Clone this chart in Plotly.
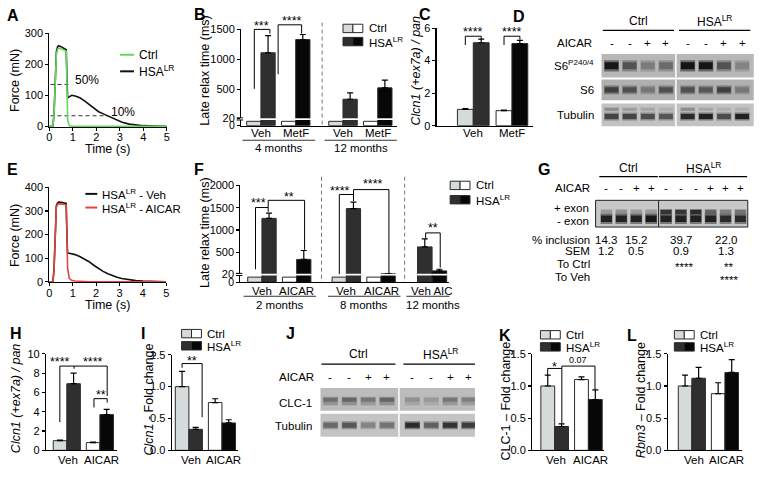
import plotly.graph_objects as go

W, H = 761, 481
FONT = "Liberation Sans, Arial, Helvetica, sans-serif"
LIGHT = "#d5dbda"
DARK = "#2f2f2f"
BLACK = "#070707"
WHITE = "#ffffff"
EDGE = "#2b2b2b"
GREEN = "#62d95a"
RED = "#e5443a"
HSA = "HSA<sup>LR</sup>"

# ---------------- data ----------------
# A / E : force traces
t_s = [0, 0.15, 0.2, 0.25, 0.3, 0.35, 0.4, 0.5, 0.6, 0.7, 0.72, 0.75, 0.78, 0.85, 0.95, 1.1,
       1.3, 1.5, 1.7, 1.9, 2.1, 2.3, 2.5, 2.7, 2.9, 3.1, 3.4, 3.7, 4.0, 4.5, 5.0]
a_ctrl = [0, 0, 35, 160, 232, 248, 252, 250, 247, 244, 242, 140, 20, 2, 0, 0,
          0, 0, 0, 0, 0, 0, 0, 0, 0, 0, 0, 0, 0, 0, 0]
a_hsa = [0, 0, 40, 170, 240, 256, 260, 257, 253, 249, 247, 160, 92, 95, 100, 98,
         92, 82, 70, 58, 47, 40, 33, 25, 18, 13, 7, 4, 2, 1, 0]
a_ref_level = [135, 34]
a_ref_end = [0.95, 2.5]
e_veh = [0, 0, 50, 225, 322, 334, 338, 337, 335, 333, 332, 210, 122, 121, 119, 115,
         107, 97, 85, 70, 55, 44, 34, 26, 19, 14, 8, 5, 3, 1, 0]
e_aicar = [0, 0, 45, 218, 316, 328, 331, 330, 329, 327, 326, 230, 60, 15, 6, 3,
           1, 0, 0, 0, 0, 0, 0, 0, 0, 0, 0, 0, 0, 0, 0]

# B : late relax time, metformin
b_treat = ["Veh", "MetF", "Veh", "MetF"]
b_age = ["4 months", "4 months", "12 months", "12 months"]
b_ctrl = [15, 15, 15, 15]
b_hsa = [1110, 1330, 335, 525]
b_hsa_err = [285, 85, 105, 130]

# C : Clcn1 exon 7a inclusion
c_treat = ["Veh", "MetF"]
c_ctrl = [1.0, 0.92]
c_ctrl_err = [0.05, 0.04]
c_hsa = [5.1, 5.05]
c_hsa_err = [0.22, 0.2]

# D : S6 phosphorylation blot (band darkness 0-1)
d_aicar = ["-", "-", "+", "+", "-", "-", "+", "+"]
d_s6p = [0.95, 0.6, 0.35, 0.45, 0.97, 0.97, 0.6, 0.3]
d_s6 = [0.7, 0.6, 0.35, 0.6, 0.6, 0.55, 0.7, 0.35]
d_tub = [0.7, 0.7, 0.65, 0.6, 0.85, 0.9, 0.65, 0.9]
d_tub_upper = [0.3, 0.2, 0.15, 0.1, 0.3, 0.15, 0.1, 0.1]

# F : late relax time, AICAR
f_treat = ["Veh", "AICAR", "Veh", "AICAR"]
f_age = ["2 months", "2 months", "8 months", "8 months"]
f_ctrl = [15, 15, 15, 15]
f_hsa = [1260, 340, 1480, 19]
f_hsa_err = [120, 200, 145, 0]
f12_treat = ["Veh", "AIC"]
f12_hsa = [620, 82]
f12_err = [180, 37]

# G : RT-PCR gel
g_aicar = ["-", "-", "+", "+", "-", "-", "-", "+", "+", "+"]
g_plus = [0.25, 0.3, 0.25, 0.25, 0.8, 0.8, 0.85, 0.55, 0.4, 0.45]
g_minus = [0.9, 0.9, 0.9, 0.95, 0.9, 0.9, 0.9, 0.9, 0.85, 0.85]
g_incl = ["14.3", "15.2", "39.7", "22.0"]
g_sem = ["1.2", "0.5", "0.9", "1.3"]
g_to_ctrl = ["", "", "****", "**"]
g_to_veh = ["", "", "", "****"]

# H, I, K, L : bar panels
h_treat = ["Veh", "AICAR"]
h_ctrl, h_ctrl_err = [1.0, 0.8], [0.07, 0.05]
h_hsa, h_hsa_err = [6.9, 3.7], [1.1, 0.55]
i_ctrl, i_ctrl_err = [1.0, 0.75], [0.24, 0.06]
i_hsa, i_hsa_err = [0.33, 0.43], [0.03, 0.05]
k_ctrl, k_ctrl_err = [1.0, 1.1], [0.17, 0.04]
k_hsa, k_hsa_err = [0.37, 0.79], [0.04, 0.15]
l_ctrl, l_ctrl_err = [1.0, 0.88], [0.17, 0.17]
l_hsa, l_hsa_err = [1.12, 1.21], [0.17, 0.2]

# J : CLC-1 blot
j_aicar = ["-", "-", "+", "+", "-", "-", "+", "+"]
j_clc = [0.45, 0.5, 0.4, 0.5, 0.25, 0.2, 0.4, 0.35]
j_tub = [0.5, 0.6, 0.35, 0.45, 0.85, 0.55, 0.8, 0.75]

# ---------------- helpers ----------------
fig = go.Figure()
axes = {}
shapes = []
notes = []
count = [0]


def fx(x):
    return x / W


def fy(y):
    return 1 - y / H


def new_axes(x0, x1, top, bottom, xr, yr, visible=True):
    count[0] += 1
    k = "" if count[0] == 1 else str(count[0])
    common = dict(showgrid=False, zeroline=False, fixedrange=True, showline=True,
                  linecolor="black", linewidth=1.1, ticks="outside", ticklen=3,
                  tickwidth=1.1, tickcolor="black",
                  tickfont=dict(size=11, color="black", family=FONT))
    xa = dict(common, domain=[fx(x0), fx(x1)], range=xr, anchor="y" + k)
    ya = dict(common, domain=[fy(bottom), fy(top)], range=yr, anchor="x" + k)
    if not visible:
        xa["visible"] = False
        ya["visible"] = False
    axes["xaxis" + k] = xa
    axes["yaxis" + k] = ya
    return "x" + k, "y" + k


def text(x, y, s, size=11, anchor="center", xref="paper", angle=0):
    notes.append(dict(x=fx(x) if xref == "paper" else x, y=fy(y), xref=xref, yref="paper",
                      text=s, showarrow=False, xanchor=anchor, yanchor="middle",
                      textangle=angle, font=dict(size=size, color="black", family=FONT)))


def seg(pts, color="black", width=1, dash="solid", xref="paper"):
    for (x0, y0), (x1, y1) in zip(pts[:-1], pts[1:]):
        shapes.append(dict(type="line", xref=xref, yref="paper",
                           x0=fx(x0) if xref == "paper" else x0,
                           x1=fx(x1) if xref == "paper" else x1,
                           y0=fy(y0), y1=fy(y1),
                           line=dict(color=color, width=width, dash=dash)))


def rect(x0, y0, x1, y1, fill, line=EDGE):
    shapes.append(dict(type="rect", xref="paper", yref="paper", x0=fx(x0), x1=fx(x1),
                       y0=fy(y1), y1=fy(y0), fillcolor=fill, line=dict(color=line, width=1)))


def letter(x, y, s):
    text(x, y, "<b>%s</b>" % s, size=16, anchor="left")


def legend_boxes(x, yc, yh):
    for y, cols, lab in ((yc, (LIGHT, WHITE), "Ctrl"), (yh, (DARK, BLACK), HSA)):
        rect(x, y - 4.3, x + 10, y + 4.3, cols[0])
        rect(x + 10, y - 4.3, x + 20, y + 4.3, cols[1])
        text(x + 24, y, lab, size=11.5, anchor="left")


def bars(xa, ya, pos, vals, errs, cols, w=0.41):
    n = len(vals)
    err = None
    if errs is not None:
        err = dict(type="data", array=errs, arrayminus=[0] * n, symmetric=False,
                   color="black", thickness=1.2, width=3)
    fig.add_trace(go.Bar(x=pos, y=vals, width=w, marker=dict(color=cols, line=dict(color=EDGE, width=1)),
                         error_y=err, xaxis=xa, yaxis=ya, hoverinfo="skip", showlegend=False))


def pair_panel(xa, ya, treat, ctrl, ctrl_err, hsa, hsa_err, w=0.41):
    pos = list(range(len(treat)))
    ccols = [LIGHT if t == "Veh" else WHITE for t in treat]
    hcols = [DARK if t == "Veh" else BLACK for t in treat]
    bars(xa, ya, [p - w / 2 for p in pos], ctrl, ctrl_err, ccols, w)
    bars(xa, ya, [p + w / 2 for p in pos], hsa, hsa_err, hcols, w)
    return pos


def shade(i, bg, a=1.0):
    v = int(bg - (bg - 15) * i)
    return "rgba(%d,%d,%d,%.2f)" % (v, v, v, a)


def strip(x0, x1, top, bottom, xr, bg, border=None):
    xa, ya = new_axes(x0, x1, top, bottom, xr, [0, 1], visible=False)
    shapes.append(dict(type="rect", xref=xa + " domain", yref=ya + " domain", x0=0, x1=1,
                       y0=0, y1=1, fillcolor="rgb(%d,%d,%d)" % (bg, bg, bg), layer="below",
                       line=dict(color=border or "rgba(0,0,0,0)", width=1)))
    return xa, ya


def bands(xa, ya, lanes, inten, yc, h, bg, bw=0.82):
    n = len(lanes)
    fig.add_trace(go.Bar(x=lanes, y=[h * 1.6] * n, base=[yc - h * 0.8] * n, width=bw,
                         marker=dict(color=[shade(i * 0.8, bg, 0.6) for i in inten], line=dict(width=0)),
                         xaxis=xa, yaxis=ya, hoverinfo="skip", showlegend=False))
    fig.add_trace(go.Bar(x=lanes, y=[h] * n, base=[yc - h / 2] * n, width=bw * 0.92,
                         marker=dict(color=[shade(i, bg) for i in inten], line=dict(width=0)),
                         xaxis=xa, yaxis=ya, hoverinfo="skip", showlegend=False))


def divider(xa, ya, x, color="white", width=1.5):
    shapes.append(dict(type="line", xref=xa, yref=ya + " domain", x0=x, x1=x, y0=0, y1=1,
                       line=dict(color=color, width=width)))


def blot_header(xa, lanes, n_ctrl, signs, y_head, y_line, y_sign, label_x):
    groups = (("Ctrl", lanes[:n_ctrl]), (HSA, lanes[n_ctrl:]))
    for lab, ln in groups:
        text((ln[0] + ln[-1]) / 2, y_head, lab, size=12, xref=xa)
        seg([(ln[0] - 0.48, y_line), (ln[-1] + 0.45, y_line)], width=1.3, xref=xa)
    text(label_x, y_sign, "AICAR", size=11.5, anchor="right")
    for p, s in zip(lanes, signs):
        text(p, y_sign, s, size=11.5, xref=xa)


def group_labels(xa, pos, labels, y):
    for p, s in zip(pos, labels):
        text(p, y, s, size=11.5, xref=xa)


# ---------------- A ----------------
letter(2, 10, "A")
xa, ya = new_axes(46.7, 165, 28, 124, [0, 5], [-2, 300])
axes["xaxis"].update(tickvals=[0, 1, 2, 3, 4, 5], ticklabelstandoff=-3)
axes["yaxis"]["tickvals"] = [0, 100, 200, 300]
for lvl, end in zip(a_ref_level, a_ref_end):
    fig.add_trace(go.Scatter(x=[0.05, end], y=[lvl, lvl], mode="lines", xaxis=xa, yaxis=ya,
                             line=dict(color="#333", width=1, dash="4px,3px"), showlegend=False))
fig.add_trace(go.Scatter(x=t_s, y=a_hsa, mode="lines", line=dict(color="#111", width=1.6),
                         xaxis=xa, yaxis=ya, showlegend=False))
fig.add_trace(go.Scatter(x=t_s, y=a_ctrl, mode="lines", line=dict(color=GREEN, width=1.6),
                         xaxis=xa, yaxis=ya, showlegend=False))
text(71, 76, "50%", size=12, anchor="left")
text(107, 109, "10%", size=12, anchor="left")
seg([(118, 50), (132, 50)], color=GREEN, width=2)
text(135, 50, "Ctrl", size=12, anchor="left")
seg([(118, 67), (132, 67)], color="#111", width=2)
text(135, 67, HSA, size=12, anchor="left")
text(12, 76, "Force (mN)", size=12.5, angle=-90)
text(105, 147, "Time (s)", size=12.5)

# ---------------- E ----------------
letter(2, 168, "E")
xa, ya = new_axes(46.7, 164.5, 186, 283.3, [0, 5], [-2, 400])
axes["xaxis" + xa[1:]].update(tickvals=[0, 1, 2, 3, 4, 5], ticklabelstandoff=-3)
axes["yaxis" + ya[1:]]["tickvals"] = [0, 100, 200, 300, 400]
fig.add_trace(go.Scatter(x=t_s, y=e_veh, mode="lines", line=dict(color="#111", width=1.6),
                         xaxis=xa, yaxis=ya, showlegend=False))
fig.add_trace(go.Scatter(x=t_s, y=e_aicar, mode="lines", line=dict(color=RED, width=1.6),
                         xaxis=xa, yaxis=ya, showlegend=False))
seg([(83, 192.7), (95, 192.7)], color="#111", width=2)
text(97.5, 192.7, HSA + " - Veh", size=11.5, anchor="left")
seg([(83, 206.7), (95, 206.7)], color=RED, width=2)
text(97.5, 206.7, HSA + " - AICAR", size=11.5, anchor="left")
text(12, 235, "Force (mN)", size=12.5, angle=-90)
text(105, 307, "Time (s)", size=12.5)


# ---------------- broken-axis panels (B, F) ----------------
def broken_panel(x0, x1, top, brk, bottom, xr, ymax, yticks, pos, treat, ctrl, hsa, hsa_err):
    xb, yb = new_axes(x0, x1, brk + 1.8, bottom, xr, [0, 20])
    axes["xaxis" + xb[1:]].update(ticks="", showticklabels=False)
    axes["yaxis" + yb[1:]].update(tickvals=[0], tickfont=dict(size=10.5, color="black", family=FONT))
    xt, yt = new_axes(x0, x1, top, brk, xr, [20, ymax])
    axes["xaxis" + xt[1:]]["visible"] = False
    axes["yaxis" + yt[1:]].update(tickvals=yticks)
    w = 0.41
    ccols = [LIGHT if t == "Veh" else WHITE for t in treat]
    hcols = [DARK if t == "Veh" else BLACK for t in treat]
    bars(xb, yb, [p - w / 2 for p in pos], ctrl, None, ccols, w)
    for xa_, ya_, er in ((xb, yb, None), (xt, yt, hsa_err)):
        bars(xa_, ya_, [p + w / 2 for p in pos], hsa, er, hcols, w)
    seg([(x0 - 4.5, brk - 0.3), (x0 + 2, brk - 0.3)], width=1)
    seg([(x0 - 4.5, brk + 1.9), (x0 + 2, brk + 1.9)], width=1)
    return xb


def age_groups(xa, pos, ages, y_line, y_text, w=0.41):
    seen = []
    for a in ages:
        if a not in seen:
            seen.append(a)
    for a in seen:
        ps = [p for p, g in zip(pos, ages) if g == a]
        lo, hi = ps[0] - w - 0.12, ps[-1] + w + 0.15
        seg([(lo, y_line), (hi, y_line)], color="#333", width=1, xref=xa)
        text((lo + hi) / 2, y_text, a, size=11.5, xref=xa)


# B
letter(190, 9, "B")
b_pos = [0, 1, 2.36, 3.36]
xb = broken_panel(240, 397, 24, 115, 122.7, [-0.57, 3.91], 1500, [20, 500, 1000, 1500],
                  b_pos, b_treat, b_ctrl, b_hsa, b_hsa_err)
group_labels(xb, b_pos, b_treat, 130.7)
age_groups(xb, b_pos, b_age, 137.7, 145.7)
mid = (b_pos[1] + b_pos[2]) / 2 + 0.08
seg([(mid, 17), (mid, 122.7)], color="#777", width=1, dash="4px,3px", xref=xb)
text(203.3, 66.7, "Late relax time (ms)", size=12.5, angle=-90)
legend_boxes(342.7, 23, 36.5)
seg([(253.3, 85), (253.3, 24), (269, 24), (269, 28.3)])
text(261, 20, "***", size=12.5)
seg([(277.3, 70), (277.3, 19.3), (301, 19.3), (301, 28.3)])
text(291, 15, "****", size=12.5)

# F
letter(190, 168, "F")
f_pos = [0, 1, 2.43, 3.43]
f12_pos = 4.9
xf = broken_panel(239.3, 450, 184, 274.5, 283.3, [-0.62, 5.4], 2000, [20, 500, 1000, 1500, 2000],
                  f_pos, f_treat, f_ctrl, f_hsa, f_hsa_err)
yfb = "y" + xf[1:]
yft = "y" + str(int(xf[1:]) + 1)
xft = "x" + str(int(xf[1:]) + 1)
p12 = [f12_pos - 0.21, f12_pos + 0.21]
c12 = [DARK, BLACK]
bars(xf, yfb, p12, f12_hsa, None, c12, 0.42)
bars(xft, yft, p12, f12_hsa, f12_err, c12, 0.42)
group_labels(xf, f_pos, f_treat, 292.3)
group_labels(xf, [f12_pos], [" ".join(f12_treat)], 292.3)
age_groups(xf, f_pos + p12, f_age + ["12 months", "12 months"], 297.7, 306.7)
for m in ((f_pos[1] + f_pos[2]) / 2, (f_pos[3] + p12[0]) / 2 + 0.05):
    seg([(m, 175), (m, 283.3)], color="#777", width=1, dash="4px,3px", xref=xf)
text(203.3, 233, "Late relax time (ms)", size=12.5, angle=-90)
legend_boxes(450.7, 184, 198.7)
seg([(254.5, 270), (254.5, 206.7), (267.3, 206.7), (267.3, 211)])
text(258, 202.5, "***", size=12.5)
seg([(267.3, 206.7), (267.3, 199.3), (304, 199.3), (304, 250)])
text(288.3, 195.5, "**", size=12.5)
seg([(339, 275), (339, 193.3), (353.3, 193.3), (353.3, 200)])
text(340, 189.5, "****", size=12.5)
seg([(353.3, 193.3), (353.3, 188.3), (389, 188.3), (389, 275)])
text(373.3, 183, "****", size=12.5)
seg([(426, 238.3), (426, 232.7), (440.7, 232.7), (440.7, 268.3)])
text(433.3, 227.5, "**", size=12.5)

# ---------------- C ----------------
letter(417, 9, "C")
xa, ya = new_axes(437, 534, 22.7, 122.7, [-0.95, 1.54], [0, 6])
axes["xaxis" + xa[1:]].update(ticks="", showticklabels=False)
axes["yaxis" + ya[1:]].update(tickvals=[0, 2, 4, 6])
cp = pair_panel(xa, ya, c_treat, c_ctrl, c_ctrl_err, c_hsa, c_hsa_err)
group_labels(xa, cp, c_treat, 130.7)
text(416.7, 66.7, "<i>Clcn1 (+ex7a) / pan</i>", size=12.5, angle=-90)
seg([(466, 40), (466, 31), (482, 31), (482, 34)])
text(474, 26.5, "****", size=12.5)
seg([(505, 40), (505, 31), (521, 31), (521, 34.5)])
text(513, 26.5, "****", size=12.5)

# ---------------- D (western blot) ----------------
letter(512, 11, "D")
d_lanes = [i + 0.2 * (i >= 4) for i in range(8)]
dx = [-0.55, 7.84]
rows = [(49.3, 73.3, 183, d_s6p, 0.5, 0.3), (75.3, 96.7, 176, d_s6, 0.5, 0.26),
        (100, 123.3, 194, d_tub, 0.43, 0.22)]
first = None
for top, bot, bg, inten, yc, hh in rows:
    xs, ys = strip(603.3, 756.7, top, bot, dx, bg)
    first = first or xs
    if inten is d_tub:
        bands(xs, ys, d_lanes, d_tub_upper, 0.74, 0.12, bg)
    bands(xs, ys, d_lanes, inten, yc, hh, bg)
    divider(xs, ys, (d_lanes[3] + d_lanes[4]) / 2 - 0.05)
blot_header(first, d_lanes, 4, d_aicar, 15, 25, 38.3, 596)
text(597.3, 61, "S6<sup>P240/4</sup>", size=11.5, anchor="right")
text(597.3, 86, "S6", size=11.5, anchor="right")
text(597.3, 111.7, "Tubulin", size=11.5, anchor="right")

# ---------------- G (gel) ----------------
letter(537, 168, "G")
g_lanes = list(range(10))
xs, ys = strip(597.3, 750.7, 199.3, 226.7, [-0.73, 9.49], 200, border="#222")
bands(xs, ys, g_lanes, g_plus, 0.56, 0.15, 200, 0.8)
bands(xs, ys, g_lanes, g_minus, 0.31, 0.24, 200, 0.8)
divider(xs, ys, 3.5, color="#222", width=1)
blot_header(xs, g_lanes, 4, g_aicar, 166, 175, 186.7, 593.3)
text(592.7, 207.3, "+ exon", size=11.5, anchor="right")
text(592.7, 221, "- exon", size=11.5, anchor="right")
g_val_lane = [0, 2, 5, 8]
for lab, y, vals in (("% inclusion", 240, g_incl), ("SEM", 251.7, g_sem),
                     ("To Ctrl", 265, g_to_ctrl), ("To Veh", 277.5, g_to_veh)):
    text(594, y, lab, size=11.5, anchor="right")
    for p, v in zip(g_val_lane, vals):
        if v:
            sh = 0.2 if v.startswith("*") else 0
            text(p + sh, y + (3 if v.startswith("*") else 0), v, size=11.5, xref=xs)

# ---------------- H ----------------
letter(5, 336, "H")
xa, ya = new_axes(43.3, 115, 356.7, 455.7, [-0.63, 1.52], [0, 10])
axes["xaxis" + xa[1:]].update(ticks="", showticklabels=False)
axes["yaxis" + ya[1:]].update(tickvals=[0, 2, 4, 6, 8, 10])
hp = pair_panel(xa, ya, h_treat, h_ctrl, h_ctrl_err, h_hsa, h_hsa_err)
group_labels(xa, [p + 0.05 for p in hp], h_treat, 465.7)
text(13.3, 403, "<i>Clcn1 (+ex7a) / pan</i>", size=12.5, angle=-90)
seg([(57.3, 426.7), (57.3, 369.3), (105, 369.3), (105, 400)])
seg([(71.7, 369.3), (71.7, 372)])
text(57.5, 365.5, "****", size=12.5)
text(91, 365.5, "****", size=12.5)
seg([(91.7, 411.7), (91.7, 402.7), (105, 402.7), (105, 406.7)])
text(98.3, 399, "**", size=12.5)

# ---------------- I ----------------
letter(137, 336, "I")
xa, ya = new_axes(170, 236.7, 357.7, 455.7, [-0.52, 1.48], [0, 1.5])
axes["xaxis" + xa[1:]].update(ticks="", showticklabels=False)
axes["yaxis" + ya[1:]].update(tickvals=[0, 0.5, 1, 1.5], ticktext=["0.0", "0.5", "1.0", "1.5"])
ip = pair_panel(xa, ya, h_treat, i_ctrl, i_ctrl_err, i_hsa, i_hsa_err)
group_labels(xa, [p + 0.05 for p in ip], h_treat, 465.7)
text(146.7, 404, "<i>Clcn1</i> - Fold change", size=12.5, angle=-90)
legend_boxes(180, 336, 348.5)
seg([(180.5, 371), (180.5, 366.7), (200.7, 366.7), (200.7, 421.7)])
text(190.7, 364, "**", size=12.5)

# ---------------- J (western blot) ----------------
letter(283, 336, "J")
j_lanes = [i + 0.35 * (i >= 4) for i in range(8)]
jx = [-0.53, 7.67]
xs, ys = strip(320, 475.7, 391.7, 415, jx, 188)
bands(xs, ys, j_lanes, [v * 0.5 for v in j_clc], 0.3, 0.1, 188)
bands(xs, ys, j_lanes, j_clc, 0.48, 0.17, 188)
divider(xs, ys, (j_lanes[3] + j_lanes[4]) / 2 - 0.04)
first = xs
xs, ys = strip(320, 475.7, 418.3, 441.7, jx, 196)
bands(xs, ys, j_lanes, j_tub, 0.5, 0.22, 196)
divider(xs, ys, (j_lanes[3] + j_lanes[4]) / 2 - 0.04)
blot_header(first, j_lanes, 4, j_aicar, 356.7, 367.3, 380, 315)
text(313.3, 406.7, "CLC-1", size=11.5, anchor="right")
text(313.3, 430.7, "Tubulin", size=11.5, anchor="right")

# ---------------- K ----------------
letter(498, 338, "K")
xa, ya = new_axes(533.3, 606, 356.7, 455.7, [-0.67, 1.47], [0, 1.5])
axes["xaxis" + xa[1:]].update(ticks="", showticklabels=False)
axes["yaxis" + ya[1:]].update(tickvals=[0, 0.5, 1, 1.5], ticktext=["0.0", "0.5", "1.0", "1.5"])
kp = pair_panel(xa, ya, h_treat, k_ctrl, k_ctrl_err, k_hsa, k_hsa_err)
group_labels(xa, [p + 0.05 for p in kp], h_treat, 465.7)
text(506.7, 405, "CLC-1 \u2013 Fold change", size=12.5, angle=-90)
legend_boxes(541.7, 337.2, 349.6)
seg([(549, 378.3), (549, 371.7), (563.3, 371.7), (563.3, 428.3)])
text(555.5, 370, "*", size=12.5)
seg([(563.3, 371.7), (563.3, 369.3), (596.7, 369.3), (596.7, 393.3)])
text(580, 363, "0.07", size=9)

# ---------------- L ----------------
letter(627, 338, "L")
xa, ya = new_axes(670, 745, 356.7, 455.7, [-0.73, 1.52], [0, 1.5])
axes["xaxis" + xa[1:]].update(ticks="", showticklabels=False)
axes["yaxis" + ya[1:]].update(tickvals=[0, 0.5, 1, 1.5], ticktext=["0.0", "0.5", "1.0", "1.5"])
lp = pair_panel(xa, ya, h_treat, l_ctrl, l_ctrl_err, l_hsa, l_hsa_err)
group_labels(xa, [p + 0.05 for p in lp], h_treat, 465.7)
text(643.3, 404, "<i>Rbm3</i> \u2013 Fold change", size=12.5, angle=-90)
legend_boxes(676.7, 337.2, 349.6)

fig.update_layout(width=W, height=H, margin=dict(l=0, r=0, t=0, b=0),
                  paper_bgcolor="white", plot_bgcolor="white", barmode="overlay",
                  font=dict(family=FONT, color="black"), showlegend=False,
                  shapes=shapes, annotations=notes, **axes)
fig.write_html("out.html", config={"displayModeBar": False, "staticPlot": True},
               post_script="document.body.style.margin='0';")
